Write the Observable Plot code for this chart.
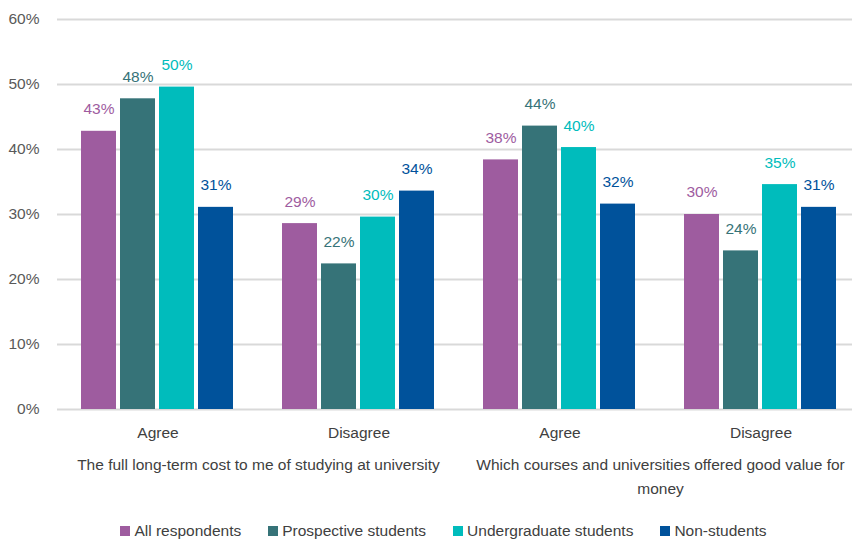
<!DOCTYPE html>
<html>
<head>
<meta charset="utf-8">
<script src="https://cdn.jsdelivr.net/npm/d3@7"></script>
<script src="https://cdn.jsdelivr.net/npm/@observablehq/plot@0.6"></script>
<style>
  html, body { margin: 0; padding: 0; background: white; overflow: hidden; }
  body { font-family: "Liberation Sans", Arial, sans-serif; }
  #chart svg { display: block; }
  #legend [class*="-swatches"] { display: flex; justify-content: center; align-items: center; min-height: 30px !important; margin: 0 !important; font-size: 15.5px !important; color: #404040; padding-left: 62px; font-family: "Liberation Sans", Arial, sans-serif !important; }
  #legend [class$="-swatch"] { margin-right: 27px !important; display: inline-flex; align-items: center; }
  #legend [class$="-swatch"] > svg { margin-right: 4px !important; }
</style>
</head>
<body>
<div id="chart"></div>
<div id="legend"></div>
<script>
const questions = [
  "The full long-term cost to me of studying at university",
  "Which courses and universities offered good value for\nmoney"
];
const responses = ["Agree", "Disagree"];
const series = ["All respondents", "Prospective students", "Undergraduate students", "Non-students"];
// values per group: cost-Agree, cost-Disagree, value-Agree, value-Disagree
const allRespondents = [42.8, 28.6, 38.4, 30.0];
const prospectiveStudents = [47.8, 22.4, 43.6, 24.4];
const undergraduateStudents = [49.6, 29.6, 40.3, 34.6];
const nonStudents = [31.1, 33.6, 31.6, 31.1];
const colors = ["#9e5c9f", "#367378", "#00bcbc", "#00529b"];
const yTicks = [0, 10, 20, 30, 40, 50, 60];

const seriesValues = [allRespondents, prospectiveStudents, undergraduateStudents, nonStudents];
const keys = [];
questions.forEach((q, qi) => responses.forEach(r => keys.push(qi + "|" + r)));
const rows = [];
keys.forEach((k, gi) => series.forEach((s, si) => rows.push({key: k, series: s, value: seriesValues[si][gi]})));
const questionRows = questions.map((q, qi) => ({key: qi + "|" + responses[0], label: q}));

const chart = Plot.plot({
  width: 852,
  height: 516,
  marginLeft: 57,
  marginRight: -9,
  marginTop: 19,
  marginBottom: 107,
  style: {fontFamily: "Liberation Sans, Arial, sans-serif", fontSize: "15.5px", color: "#404040", background: "white"},
  fx: {domain: keys, padding: 0, label: null, axis: null},
  x: {domain: series, paddingInner: 0.092, paddingOuter: 0.603, axis: null},
  y: {domain: [0, 60], label: null},
  color: {domain: series, range: colors},
  marks: [
    Plot.gridY(yTicks, {stroke: "#d9d9d9", strokeOpacity: 1, strokeWidth: 2}),
    Plot.axisY(yTicks, {tickSize: 0, tickPadding: 18, tickFormat: d => d + "%", fill: "#595959", label: null, fontSize: 15.5}),
    Plot.axisFx({anchor: "bottom", tickSize: 0, tickPadding: 17, tickFormat: k => k.split("|")[1], label: null, fontSize: 15.5, fill: "#404040"}),
    Plot.barY(rows, {fx: "key", x: "series", y: "value", fill: "series"}),
    Plot.text(rows, {fx: "key", x: "series", y: "value", text: d => Math.round(d.value) + "%", fill: "series", dy: -22, fontSize: 15.5}),
    Plot.text(questionRows, {fx: "key", text: "label", frameAnchor: "bottom-right", textAnchor: "middle", lineAnchor: "top", dy: 43, lineHeight: 1.55, fill: "#404040", fontSize: 15.5})
  ]
});
document.getElementById("chart").appendChild(chart);

const legend = Plot.legend({
  color: {domain: series, range: colors},
  legend: "swatches",
  swatchSize: 10
});
document.getElementById("legend").appendChild(legend);
</script>
</body>
</html>
